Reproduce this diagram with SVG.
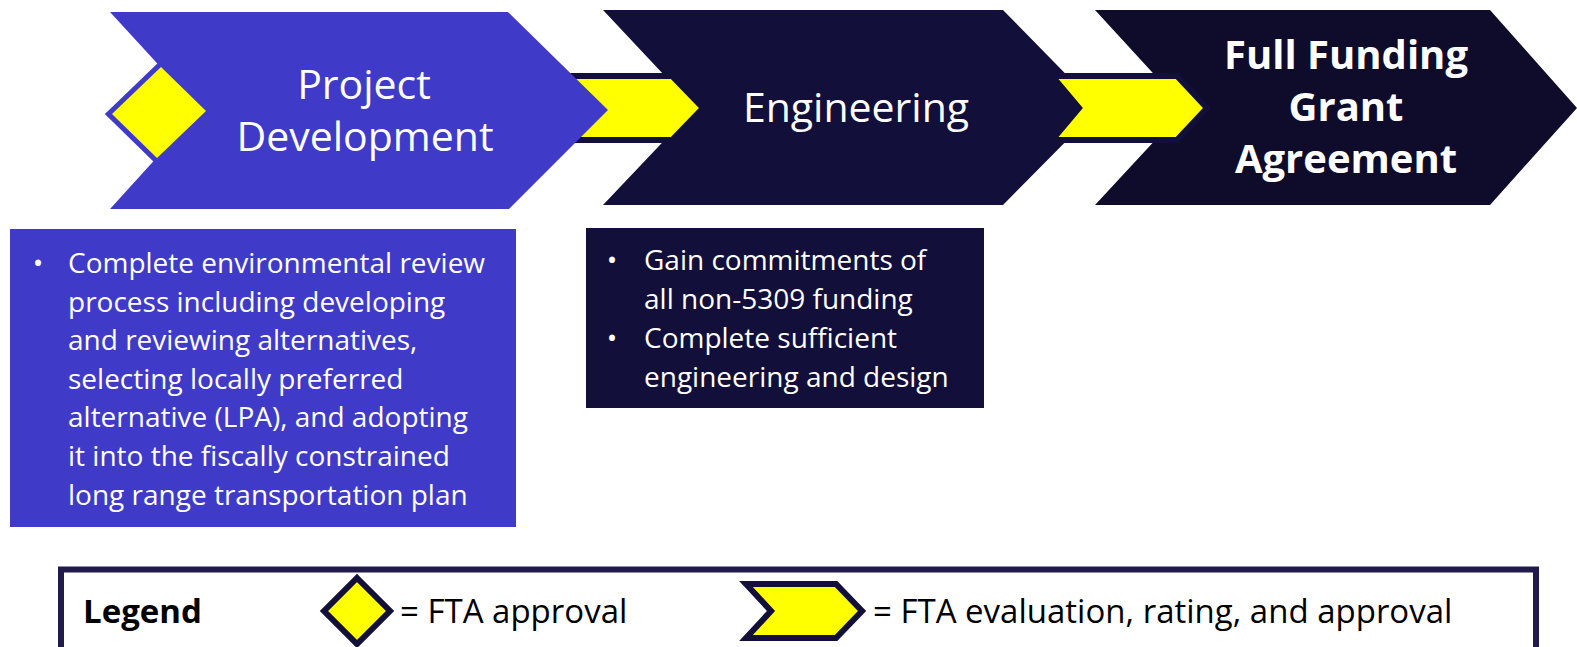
<svg xmlns="http://www.w3.org/2000/svg" width="1577" height="647" viewBox="0 0 1577 647">
<style>
.t{font-family:"Open Sans","Noto Sans","Liberation Sans",sans-serif;fill:#fff}
.h{font-size:41px;text-anchor:middle}
.hb{font-size:40px;font-weight:bold;text-anchor:middle}
.b{font-size:28px}
.bul{font-size:28px;text-anchor:middle}
.lg{font-family:"Open Sans","Noto Sans","Liberation Sans",sans-serif;fill:#000;font-size:33px}
.yel{fill:#ffff00;stroke:#120f3a;stroke-width:6;stroke-linejoin:miter}
</style>
<rect width="1577" height="647" fill="#fff"/>
<g id="engineering">
<polygon points="603,10 1003,10 1099,108 1003,205 603,205 695,108" fill="#120f3a"/>
<text class="t h" x="856" y="122">Engineering</text>
</g>
<g id="ffga">
<polygon points="1095,10 1490,10 1577,108 1490,205 1095,205 1185,108" fill="#0e0b2b"/>
<text class="t hb" x="1346" y="69">Full Funding</text>
<text class="t hb" x="1346" y="121">Grant</text>
<text class="t hb" x="1346" y="173">Agreement</text>
</g>
<g id="connectors">
<polygon class="yel" points="560,76 672,76 703,108 672,140 560,140 590,108"/>
<polygon class="yel" points="1052,76 1177,76 1207,108 1177,140 1052,140 1079,108"/>
</g>
<g id="project-development">
<polygon points="110,12 508,12 608,110 509,209 110,209 200,110" fill="#403ac9"/>
<polygon points="112,114 161,67 206,111 157,158" fill="#ffff00" stroke="#403ac9" stroke-width="10" stroke-linejoin="miter" paint-order="stroke"/>
<text class="t h" x="364" y="99">Project</text>
<text class="t h" x="365" y="151">Development</text>
</g>
<g id="pd-details">
<rect x="10" y="229" width="506" height="298" fill="#403ac9"/>
<text class="t bul" x="38" y="273">•</text>
<text class="t b" x="68" y="273">Complete environmental review</text>
<text class="t b" x="68" y="311.6">process including developing</text>
<text class="t b" x="68" y="350.2">and reviewing alternatives,</text>
<text class="t b" x="68" y="388.8">selecting locally preferred</text>
<text class="t b" x="68" y="427.4">alternative (LPA), and adopting</text>
<text class="t b" x="68" y="466">it into the fiscally constrained</text>
<text class="t b" x="68" y="504.6">long range transportation plan</text>
</g>
<g id="eng-details">
<rect x="586" y="228" width="398" height="180" fill="#120f3a"/>
<text class="t bul" x="612" y="270">•</text>
<text class="t b" x="644" y="270">Gain commitments of</text>
<text class="t b" x="644" y="309">all non-5309 funding</text>
<text class="t bul" x="612" y="348">•</text>
<text class="t b" x="644" y="348">Complete sufficient</text>
<text class="t b" x="644" y="387">engineering and design</text>
</g>
<g id="legend">
<rect x="61" y="569.5" width="1475" height="100" fill="#fff" stroke="#1f1c4c" stroke-width="6"/>
<text class="lg" x="83" y="623" font-weight="bold" font-size="31.5">Legend</text>
<polygon points="357,578 390,611 357,644 324,611" fill="#ffff00" stroke="#120f3a" stroke-width="6" stroke-linejoin="miter"/>
<text class="lg" x="400" y="623">= FTA approval</text>
<polygon points="746,584 836,584 862,611 836,638 746,638 771,611" fill="#ffff00" stroke="#120f3a" stroke-width="6" stroke-linejoin="miter"/>
<text class="lg" x="873" y="623">= FTA evaluation, rating, and approval</text>
</g>
</svg>
